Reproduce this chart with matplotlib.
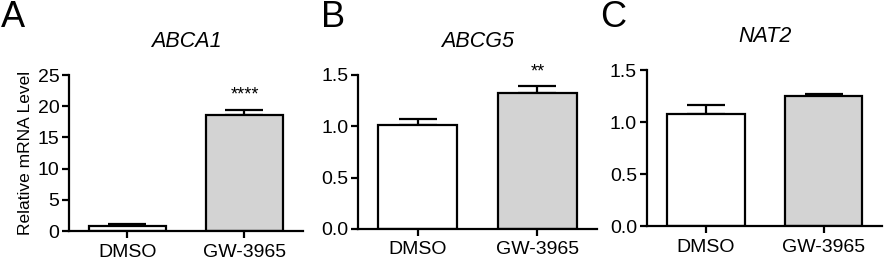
#=======================================================================
# PROGRAM IMPORTS ------------------------------------------------------
import numpy as np
import matplotlib
matplotlib.use("Agg")
import matplotlib.pyplot as plt

# PROGRAM CONSTANTS ----------------------------------------------------
groups = ["DMSO", "GW-3965"]
genes = ["ABCA1", "ABCG5", "NAT2"]
letters = ["A", "B", "C"]

# mean and sem per gene (DMSO, GW-3965)
abca1_mean = [0.85, 18.6]
abca1_err = [0.25, 0.8]
abcg5_mean = [1.01, 1.325]
abcg5_err = [0.065, 0.065]
nat2_mean = [1.08, 1.25]
nat2_err = [0.085, 0.025]

stars = [["", "****"], ["", "**"], ["", ""]]
ylims = [(0, 25), (0, 1.5), (0, 1.5)]
yticks = [[0, 5, 10, 15, 20, 25], [0.0, 0.5, 1.0, 1.5], [0.0, 0.5, 1.0, 1.5]]
yfmt = ["{:.0f}", "{:.1f}", "{:.1f}"]

BAR_COLORS = ["white", "#d3d3d3"]

plt.rcParams["font.family"] = ["Liberation Sans", "DejaVu Sans"]

#=======================================================================
# PROGRAM SCRIPT -------------------------------------------------------
fig = plt.figure(figsize=(8.86, 2.62), dpi=100)

# axes boxes in figure fractions [left, bottom, width, height]
boxes = [[0.0779, 0.1183, 0.264, 0.5954],
         [0.404, 0.126, 0.270, 0.588],
         [0.730, 0.137, 0.266, 0.595]]
letter_x = [0.001, 0.362, 0.677]

means = [abca1_mean, abcg5_mean, nat2_mean]
errs = [abca1_err, abcg5_err, nat2_err]

for i in range(3):
    ax = fig.add_axes(boxes[i])
    x = np.arange(len(groups))
    ax.bar(x, means[i], width=0.66, color=BAR_COLORS,
           edgecolor="black", linewidth=1.6, zorder=2)
    # upward error bars only
    ax.errorbar(x, means[i], yerr=[np.zeros(2), errs[i]], fmt="none",
                ecolor="black", elinewidth=1.6, capsize=14,
                capthick=1.6, zorder=1)
    top = ylims[i][1]
    for j in range(2):
        if stars[i][j]:
            ax.text(x[j], means[i][j] + errs[i][j] + top * 0.04,
                    stars[i][j], ha="center", va="bottom", fontsize=13)
    ax.set_xlim(-0.5, 1.5)
    ax.set_ylim(*ylims[i])
    ax.set_xticks(x)
    ax.set_xticklabels(groups, fontsize=14)
    ax.set_yticks(yticks[i])
    ax.set_yticklabels([yfmt[i].format(v) for v in yticks[i]], fontsize=14)
    ax.spines["top"].set_visible(False)
    ax.spines["right"].set_visible(False)
    ax.spines["left"].set_linewidth(1.6)
    ax.spines["bottom"].set_linewidth(1.6)
    ax.spines["left"].set_zorder(3)
    ax.tick_params(axis="both", width=1.6, length=5, pad=2)
    ax.tick_params(axis="x", pad=4)
    ax.set_title(genes[i], fontsize=15.5, style="italic", pad=20)
    if i == 0:
        ax.set_ylabel("Relative mRNA Level", fontsize=12.5, labelpad=3)
    fig.text(letter_x[i], 1.0, letters[i], fontsize=26, va="top", ha="left")

fig.savefig("out.png", dpi=100)
